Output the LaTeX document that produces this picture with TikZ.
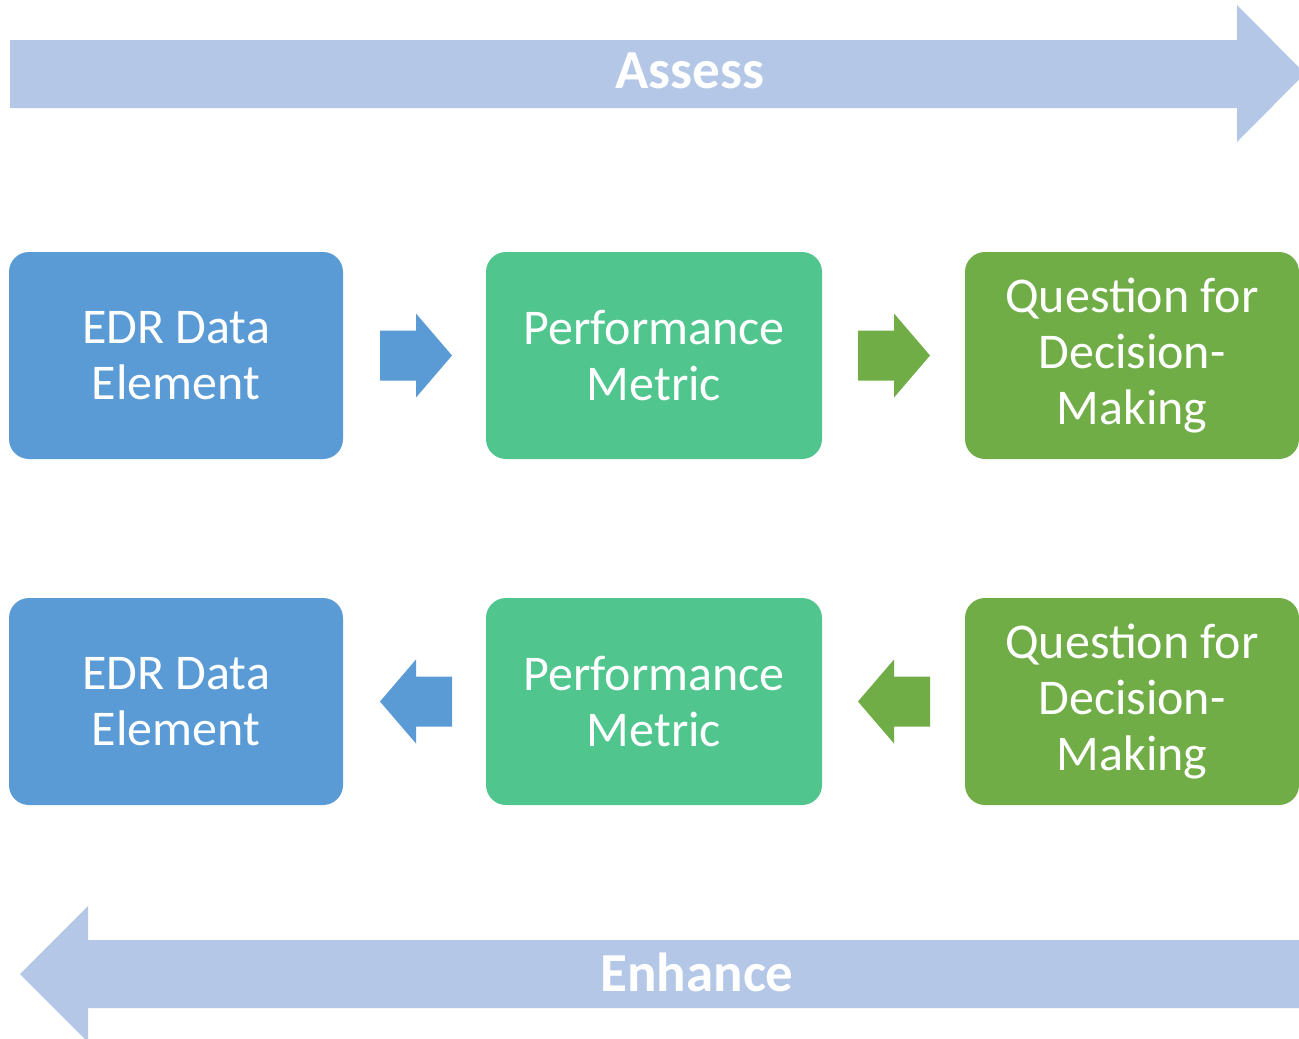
\documentclass[tikz,border=0pt]{standalone}
\usepackage{fontspec}
\setmainfont{Carlito}
\usetikzlibrary{calc}
\definecolor{boxblue}{HTML}{5B9BD5}
\definecolor{boxteal}{HTML}{50C68E}
\definecolor{boxgreen}{HTML}{70AD47}
\definecolor{bigarrow}{HTML}{B4C7E7}
\tikzset{
  box/.style={rounded corners=20pt, minimum width=334pt, minimum height=207pt, inner sep=0pt,
    align=center, text=white, font=\fontsize{50pt}{56pt}\selectfont},
  biglabel/.style={text=white, font=\fontsize{55pt}{60pt}\selectfont\bfseries, inner sep=0pt},
  rarrow/.pic={\fill[pic actions] (-36,-25) -- (0,-25) -- (0,-42) -- (36,0) -- (0,42) -- (0,25) -- (-36,25) -- cycle;},
  larrow/.pic={\fill[pic actions] (36,-25) -- (0,-25) -- (0,-42) -- (-36,0) -- (0,42) -- (0,25) -- (36,25) -- cycle;}
}
\begin{document}
\begin{tikzpicture}[x=1pt,y=-1pt]
\clip (0,0) rectangle (1299,1039);
\fill[white] (0,0) rectangle (1299,1039);
% big arrows
\fill[bigarrow] (10,40) -- (1237,40) -- (1237,5) -- (1305,73.5) -- (1237,142) -- (1237,108) -- (10,108) -- cycle;
\node[biglabel] (assess) at (690,71) {Assess};
\fill[bigarrow] (1310,940) -- (88,940) -- (88,906) -- (20,974) -- (88,1042) -- (88,1008) -- (1310,1008) -- cycle;
\node[biglabel] (enhance) at (697,972) {Enhance};
% row 1
\node[box, fill=boxblue] (a1) at (176,355.5) {EDR Data\\Element};
\node[box, fill=boxteal, minimum width=336pt] (a2) at (654,355.5) {Performance\\Metric};
\node[box, fill=boxgreen] (a3) at (1132,355.5) {Question for\\Decision-\\Making};
\pic[fill=boxblue] at ($(a1.east)!0.5!(a2.west)+(1.5,0)$) {rarrow};
\pic[fill=boxgreen] at ($(a2.east)!0.5!(a3.west)+(0.5,0)$) {rarrow};
% row 2
\node[box, fill=boxblue] (b1) at (176,701.5) {EDR Data\\Element};
\node[box, fill=boxteal, minimum width=336pt] (b2) at (654,701.5) {Performance\\Metric};
\node[box, fill=boxgreen] (b3) at (1132,701.5) {Question for\\Decision-\\Making};
\pic[fill=boxblue] at ($(b1.east)!0.5!(b2.west)+(1.5,0)$) {larrow};
\pic[fill=boxgreen] at ($(b2.east)!0.5!(b3.west)+(0.5,0)$) {larrow};
\end{tikzpicture}
\end{document}
